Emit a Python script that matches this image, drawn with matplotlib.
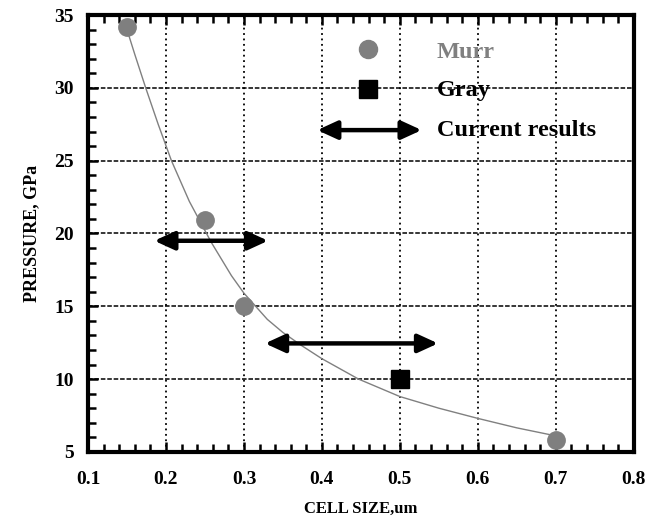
import numpy as np
import matplotlib.pyplot as plt
from matplotlib.ticker import MultipleLocator

# Murr data points
murr_x = [0.15, 0.25, 0.30, 0.70]
murr_y = [34.2, 20.9, 15.0, 5.8]

# Gray data point
gray_x = [0.50]
gray_y = [10.0]

# current results: ranges of cell size at a pressure
cur_lo = [0.185, 0.327]
cur_hi = [0.331, 0.549]
cur_p = [19.5, 12.45]

# fitted curve
fit_x = [0.15, 0.16, 0.174, 0.19, 0.207, 0.23, 0.258, 0.284, 0.30, 0.33, 0.35, 0.374, 0.40,
         0.447, 0.50, 0.55, 0.60, 0.65, 0.70]
fit_y = [34.0, 32.3, 30.0, 27.5, 25.0, 22.2, 19.4, 17.1, 15.9, 14.1, 13.2, 12.3, 11.4,
         10.0, 8.8, 8.0, 7.3, 6.65, 6.1]

xticks = [0.1, 0.2, 0.3, 0.4, 0.5, 0.6, 0.7, 0.8]
xticklabels = ['0.1', '0.2', '0.3', '0.4', '0.5', '0.6', '0.7', '0.8']

plt.rcParams['font.family'] = ['Liberation Serif', 'DejaVu Serif']
plt.rcParams['font.weight'] = 'bold'

fig = plt.figure(figsize=(6.52, 5.20), dpi=100)
ax = fig.add_axes([0.135, 0.131, 0.837, 0.840])

ax.plot(fit_x, fit_y, color='#808080', lw=1.0, zorder=2)
ax.plot(murr_x, murr_y, 'o', color='#7f7f7f', markersize=12.5, zorder=3)
ax.plot(gray_x, gray_y, 's', color='black', markersize=12.5, zorder=3)

arrow_props = dict(arrowstyle='<|-|>,head_length=1.2,head_width=0.55', lw=3.2, color='black',
                   shrinkA=0, shrinkB=0)
for lo, hi, p in zip(cur_lo, cur_hi, cur_p):
    ax.annotate('', xy=(lo, p), xytext=(hi, p), arrowprops=arrow_props, zorder=4)

# legend drawn by hand like the original
ax.plot([0.459], [32.7], 'o', color='#7f7f7f', markersize=13)
ax.text(0.547, 32.4, 'Murr', color='#808080', fontsize=17.5, va='center', ha='left')
ax.plot([0.459], [29.9], 's', color='black', markersize=13)
ax.text(0.547, 29.8, 'Gray', color='black', fontsize=17.5, va='center', ha='left')
ax.annotate('', xy=(0.394, 27.1), xytext=(0.528, 27.1), arrowprops=arrow_props)
ax.text(0.547, 27.1, 'Current results', color='black', fontsize=17.5, va='center', ha='left')

ax.set_xlim(0.1, 0.8)
ax.set_ylim(5, 35)
ax.set_xticks(xticks)
ax.set_xticklabels(xticklabels)
ax.xaxis.set_minor_locator(MultipleLocator(0.02))
ax.yaxis.set_major_locator(MultipleLocator(5))
ax.yaxis.set_minor_locator(MultipleLocator(1))

ax.tick_params(which='both', direction='in', top=True, right=False, width=1.8)
ax.tick_params(which='major', length=7, labelsize=14)
ax.tick_params(axis='x', which='major', pad=14)
ax.tick_params(axis='y', which='major', pad=10)
ax.tick_params(which='minor', length=6)

ax.grid(True, axis='x', which='major', color='black', linestyle=(0, (1, 2)), lw=1.3)
ax.grid(True, axis='y', which='major', color='black', linestyle=(0, (3, 1.2)), lw=1.1)
for s in ax.spines.values():
    s.set_linewidth(3)

ax.set_xlabel('CELL SIZE,um', fontsize=12, fontweight='bold', labelpad=9)
ax.set_ylabel('PRESSURE, GPa', fontsize=13, fontweight='bold', labelpad=10)

fig.savefig('out.png', dpi=100)
